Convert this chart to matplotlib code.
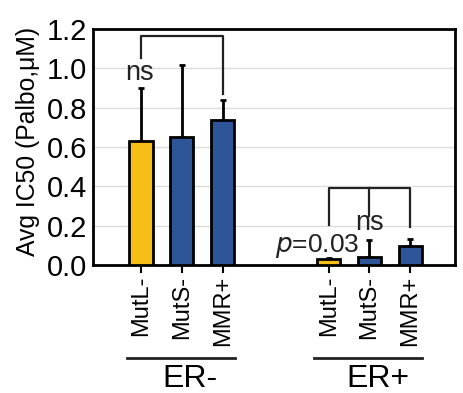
import matplotlib
matplotlib.use("Agg")
import matplotlib.pyplot as plt
from matplotlib.transforms import blended_transform_factory

plt.rcParams['font.family'] = ['Liberation Sans', 'DejaVu Sans']

# Data
groups = ["ER-", "ER+"]
categories = ["MutL-", "MutS-", "MMR+"]
er_neg_mean = [0.63, 0.65, 0.735]
er_neg_err = [0.27, 0.365, 0.105]
er_pos_mean = [0.028, 0.043, 0.097]
er_pos_err = [0.009, 0.085, 0.033]
bar_colors = ["#F7BE16", "#2E5597", "#2E5597"]
y_ticks = [0.0, 0.2, 0.4, 0.6, 0.8, 1.0, 1.2]

fig = plt.figure(figsize=(4.64, 3.93), dpi=100)
ax = fig.add_axes([93 / 464, 1 - 265 / 393, (455 - 93) / 464, (265 - 29) / 393])

group_offsets = [0.0, 4.6]
width = 0.57
positions = []
for off, means, errs in zip(group_offsets, [er_neg_mean, er_pos_mean], [er_neg_err, er_pos_err]):
    xs = [off + i for i in range(len(categories))]
    positions.append(xs)
    ax.bar(xs, means, width=width, color=bar_colors, edgecolor="black", linewidth=2, zorder=3)
    ax.errorbar(xs, means, yerr=[[0] * len(errs), errs], fmt="none", ecolor="black",
                elinewidth=2, capsize=2.5, capthick=2, zorder=2)

ax.set_xlim(-1.18, 7.7)
ax.set_ylim(0, 1.2)
ax.set_yticks(y_ticks)
ax.set_yticklabels([f"{v:.1f}" for v in y_ticks], fontsize=21)
ax.tick_params(axis="y", length=0, pad=4)
ax.yaxis.grid(True, color="#dddddd", linewidth=1, zorder=0)
ax.set_axisbelow(True)
for s in ax.spines.values():
    s.set_linewidth(2)

all_x = positions[0] + positions[1]
ax.set_xticks(all_x)
ax.set_xticklabels(categories * 2, rotation=90, fontsize=17)
ax.tick_params(axis="x", length=6, width=1.5, pad=2)

# Significance brackets
lw = 1.6
x0, x2 = positions[0][0], positions[0][2]
ax.plot([x0, x0, x2, x2], [1.05, 1.165, 1.165, 0.87], color="#222222", lw=lw, zorder=4)
ax.text(x0 - 0.05, 0.975, "ns", ha="center", va="center", fontsize=19.5, color="#222222")

a, b, c = positions[1]
ax.plot([a, a, c, c], [0.203, 0.39, 0.39, 0.195], color="#222222", lw=lw, zorder=4)
ax.plot([b, b], [0.39, 0.248], color="#222222", lw=lw, zorder=4)
ax.text(b, 0.212, "ns", ha="center", va="center", fontsize=19.5, color="#222222")
ax.text(b - 0.25, 0.098, r"$\it{p}$=0.03", ha="right", va="center", fontsize=19, color="#222222")

# Group labels under the category names
tr = blended_transform_factory(ax.transData, fig.transFigure)
for xs, name in zip(positions, groups):
    ax.plot([xs[0] - 0.35, xs[-1] + 0.3], [1 - 357.5 / 393] * 2, color="#222222", lw=2,
            transform=tr, clip_on=False)
    ax.text((xs[0] + xs[-1]) / 2 + 0.2, 1 - 379 / 393, name, ha="center", va="center",
            fontsize=23, transform=tr)

fig.text(28 / 464, 1 - 141.5 / 393, "Avg IC50 (Palbo,μM)", rotation=90, ha="center",
         va="center", fontsize=17.8)

fig.savefig("out.png", dpi=100)
